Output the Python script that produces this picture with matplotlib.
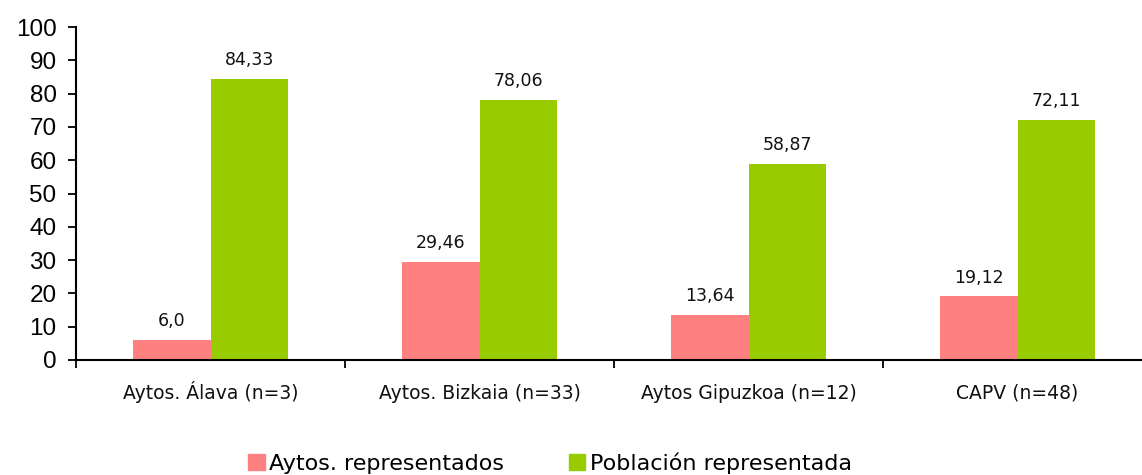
import matplotlib
matplotlib.use("Agg")
import matplotlib.pyplot as plt
import numpy as np
from matplotlib.patches import Patch

categories = ["Aytos. Álava (n=3)", "Aytos. Bizkaia (n=33)", "Aytos Gipuzkoa (n=12)", "CAPV (n=48)"]
aytos = [6.0, 29.46, 13.64, 19.12]
aytos_labels = ["6,0", "29,46", "13,64", "19,12"]
poblacion = [84.33, 78.06, 58.87, 72.11]
poblacion_labels = ["84,33", "78,06", "58,87", "72,11"]
series_names = ["Aytos. representados", "Población representada"]
yticks = list(range(0, 101, 10))

pink = "#FF8080"
green = "#99CC00"

fig = plt.figure(figsize=(11.42, 4.75), dpi=100)
ax = fig.add_axes([76/1142, 1-360/475, 1076/1142, 333/475])

x = np.arange(len(categories))
w = 0.287
b1 = ax.bar(x - w/2, aytos, w, color=pink)
b2 = ax.bar(x + w/2, poblacion, w, color=green)

lab_font = dict(family="DejaVu Sans", fontsize=12.5, color="#111111")
for rect, t in zip(b1, aytos_labels):
    ax.annotate(t, (rect.get_x() + rect.get_width()/2, rect.get_height()),
                xytext=(0, 7), textcoords="offset points", ha="center", va="bottom", **lab_font)
for rect, t in zip(b2, poblacion_labels):
    ax.annotate(t, (rect.get_x() + rect.get_width()/2, rect.get_height()),
                xytext=(0, 7), textcoords="offset points", ha="center", va="bottom", **lab_font)

ax.set_xlim(-0.5, len(categories) - 0.5)
ax.set_ylim(0, 100)
ax.set_yticks(yticks)
ax.set_yticklabels([str(v) for v in yticks], family="Liberation Sans", fontsize=17.5)
ax.set_xticks(x)
ax.set_xticklabels(categories, family="DejaVu Sans", fontsize=13.5, color="#111111", va="baseline")
ax.tick_params(axis="x", which="major", length=0, pad=28)
ax.set_xticks(np.arange(-0.5, len(categories)), minor=True)
ax.tick_params(axis="x", which="minor", length=6, width=1.3, direction="out")
ax.tick_params(axis="y", length=6, width=1.3, direction="out", pad=8)

for s in ["top", "right"]:
    ax.spines[s].set_visible(False)
ax.spines["left"].set_linewidth(1.5)
ax.spines["bottom"].set_linewidth(1.5)

handles = [Patch(color=pink, label=series_names[0]), Patch(color=green, label=series_names[1])]
fig.legend(handles=handles, loc="center", bbox_to_anchor=(550/1142, 1-463/475), ncol=2,
           frameon=False, prop=dict(family="DejaVu Sans", size=16),
           handlelength=0.75, handleheight=0.75, handletextpad=0.2, columnspacing=2.9,
           borderpad=0, borderaxespad=0)

fig.savefig("out.png", dpi=100)
